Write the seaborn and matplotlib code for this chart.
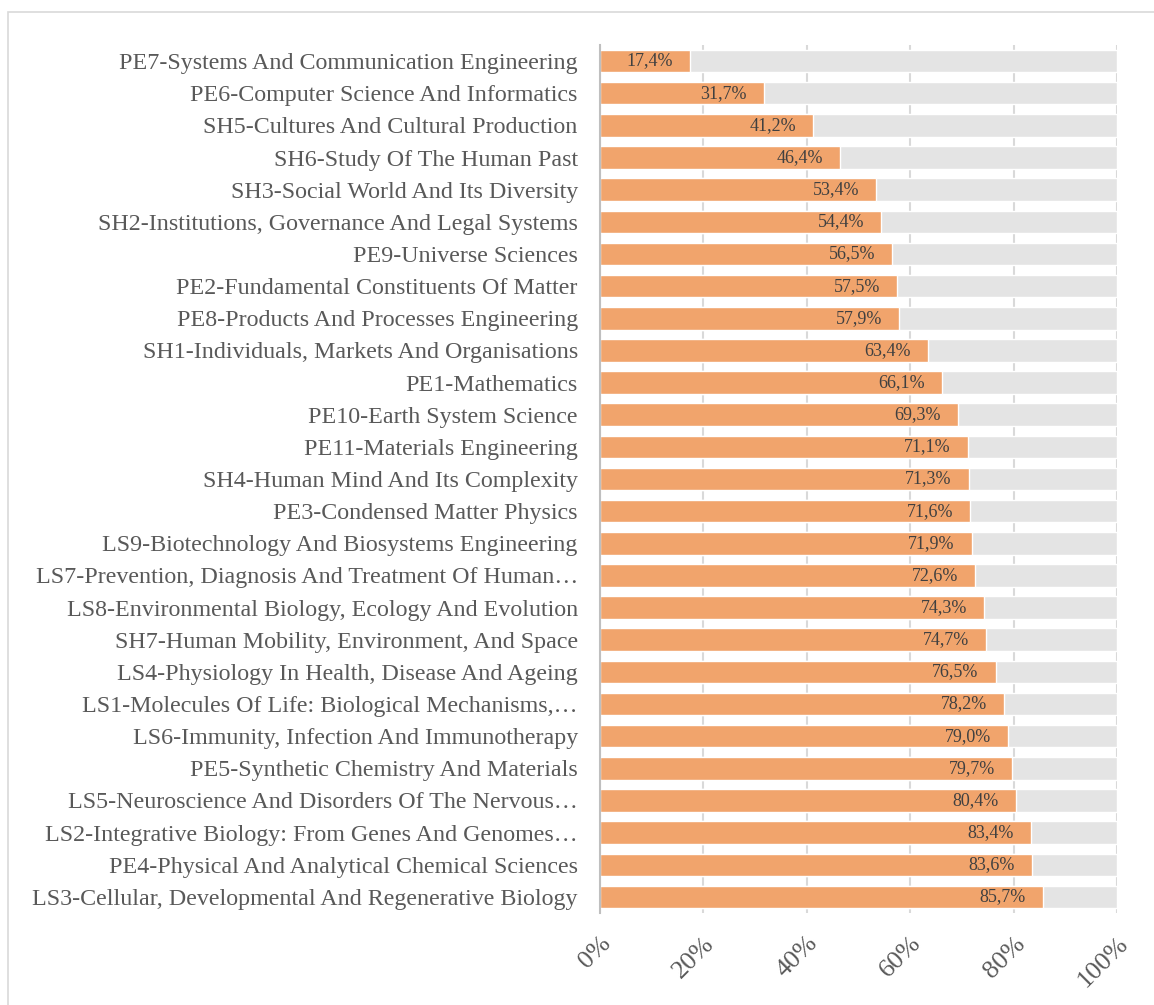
import matplotlib
matplotlib.use("Agg")
import matplotlib.pyplot as plt
import seaborn as sns
import pandas as pd
from matplotlib.patches import Rectangle

# категории сверху вниз
categories = [
    "PE7-Systems And Communication Engineering",
    "PE6-Computer Science And Informatics",
    "SH5-Cultures And Cultural Production",
    "SH6-Study Of The Human Past",
    "SH3-Social World And Its Diversity",
    "SH2-Institutions, Governance And Legal Systems",
    "PE9-Universe Sciences",
    "PE2-Fundamental Constituents Of Matter",
    "PE8-Products And Processes Engineering",
    "SH1-Individuals, Markets And Organisations",
    "PE1-Mathematics",
    "PE10-Earth System Science",
    "PE11-Materials Engineering",
    "SH4-Human Mind And Its Complexity",
    "PE3-Condensed Matter Physics",
    "LS9-Biotechnology And Biosystems Engineering",
    "LS7-Prevention, Diagnosis And Treatment Of Human\u2026",
    "LS8-Environmental Biology, Ecology And Evolution",
    "SH7-Human Mobility, Environment, And Space",
    "LS4-Physiology In Health, Disease And Ageing",
    "LS1-Molecules Of Life: Biological Mechanisms,\u2026",
    "LS6-Immunity, Infection And Immunotherapy",
    "PE5-Synthetic Chemistry And Materials",
    "LS5-Neuroscience And Disorders Of The Nervous\u2026",
    "LS2-Integrative Biology: From Genes And Genomes\u2026",
    "PE4-Physical And Analytical Chemical Sciences",
    "LS3-Cellular, Developmental And Regenerative Biology",
]
values = [17.4, 31.7, 41.2, 46.4, 53.4, 54.4, 56.5, 57.5, 57.9, 63.4, 66.1, 69.3,
          71.1, 71.3, 71.6, 71.9, 72.6, 74.3, 74.7, 76.5, 78.2, 79.0, 79.7, 80.4,
          83.4, 83.6, 85.7]
totals = [100] * len(values)
x_ticks = [0, 20, 40, 60, 80, 100]

df = pd.DataFrame({"cat": categories, "val": values, "total": totals})

sns.set_style("white")
plt.rcParams["font.family"] = ["Liberation Serif", "DejaVu Serif"]
text_color = "#595959"

fig = plt.figure(figsize=(11.54, 10.05), dpi=100)
ax = fig.add_axes([600 / 1154, 1 - 913 / 1005, 517 / 1154, 868 / 1005])

# рамка вокруг графика
fig.patches.append(Rectangle((8 / 1154, -0.02), 1.1, 1 - 12 / 1005 + 0.02,
                             transform=fig.transFigure, fill=False,
                             edgecolor="#D9D9D9", linewidth=1.2, zorder=0))

sns.barplot(data=df, y="cat", x="total", color="#E4E4E4", saturation=1,
            width=0.7, ax=ax, zorder=2, orient="h")
sns.barplot(data=df, y="cat", x="val", color="#F1A46C", saturation=1,
            width=0.7, ax=ax, zorder=3, orient="h")

# подписи значений у конца столбца
for i, v in enumerate(values):
    ax.text(v - 3.3, i, f"{v:.1f}%".replace(".", ","), ha="right", va="center",
            fontsize=13, color="#404040", zorder=5)

ax.set_xlim(0, 100)
ax.set_ylim(len(values) - 0.5, -0.5)
ax.set_xticks(x_ticks)
ax.set_xticklabels([f"{t}%" for t in x_ticks], rotation=45, ha="right",
                   rotation_mode="anchor", fontsize=19, color=text_color)
ax.tick_params(axis="x", length=0, pad=14)
ax.tick_params(axis="y", length=0, pad=16, labelsize=17.3, labelcolor=text_color)
ax.xaxis.grid(True, color="#D9D9D9", linewidth=1.5, zorder=1)
ax.set_axisbelow(True)
for s in ["top", "right", "bottom"]:
    ax.spines[s].set_visible(False)
ax.spines["left"].set_color("#BFBFBF")
ax.spines["left"].set_linewidth(1.5)
ax.spines["left"].set_zorder(4)
ax.set_xlabel("")
ax.set_ylabel("")

fig.savefig("out.png", dpi=100)
